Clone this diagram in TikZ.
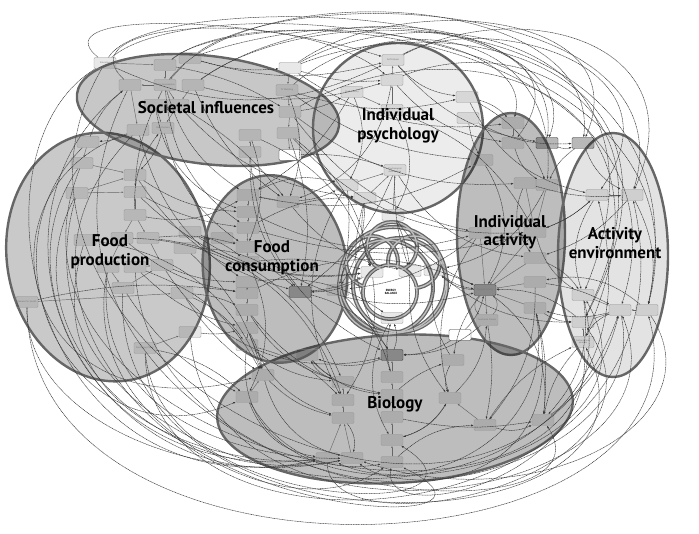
\documentclass[tikz,border=0pt]{standalone}
\usepackage{fontspec}
\setmainfont{PT Sans}
\usetikzlibrary{arrows.meta}
\tikzset{
 cluster/.style={draw=black!60, line width=2.4pt, fill=black},
 box/.style={draw=black!42, fill=black, fill opacity=0.09, text opacity=1, rounded corners=1.2pt, line width=0.4pt,
   minimum width=22pt, minimum height=11pt, inner sep=0.4pt, text width=20pt, align=center,
   font=\fontsize{2.3}{2.5}\selectfont, text=black!55},
 darkbox/.style={box, fill opacity=0.28, draw=black!80},
 wbox/.style={box, fill=white, fill opacity=1, draw=black!85, text=black},
 conn/.style={dash pattern=on 1.1pt off 0.55pt, draw=black!78, line width=0.5pt, -{Latex[length=2.6pt,width=2pt]}},
 arr/.style={draw=black!60, line width=0.45pt, -{Latex[length=2.2pt,width=1.7pt]}},
 lbl/.style={font=\bfseries\fontsize{17}{18.5}\selectfont, text=black, align=center}
}
\begin{document}
\begin{tikzpicture}[x=1pt,y=-1pt]
\useasboundingbox (0,0) rectangle (699,534);
% ---------- clusters
\path[cluster, fill opacity=0.21] (108,257) ellipse[x radius=101pt, y radius=125pt, rotate=10];
\path[cluster, fill opacity=0.22] (208,110) ellipse[x radius=132pt, y radius=54pt, rotate=-7];
\path[cluster, fill opacity=0.075] (398,128) circle[radius=85pt];
\path[cluster, fill opacity=0.26] (511,234) ellipse[x radius=54pt, y radius=121pt];
\path[cluster, fill opacity=0.11] (613,255) ellipse[x radius=55pt, y radius=122pt];
\path[cluster, fill opacity=0.26] (395,409) ellipse[x radius=178pt, y radius=74pt, rotate=3];
\path[cluster, fill opacity=0.26] (275,269) ellipse[x radius=72pt, y radius=94pt, rotate=7];
% ---------- central rings
\foreach \cx/\cy/\r in {392/247/25, 372/262/26, 414/262/26, 390/292/27, 393/280/53, 386/287/47, 400/285/47}
  \draw[black!60, line width=4pt] (\cx,\cy) circle[radius=\r pt];
\foreach \cx/\cy/\r in {392/247/25, 372/262/26, 414/262/26, 390/292/27, 393/280/53, 386/287/47, 400/285/47}
  \draw[black!25, line width=1.4pt] (\cx,\cy) circle[radius=\r pt];
\fill[white] (390,292) circle[radius=25pt];
% ---------- societal nodes
\node[box] (s1) at (105,63) {Education};
\node[box] (s2) at (165,65) {};
\node[box] (s3) at (190,58) {};
\node[box] (s4) at (130,85) {};
\node[box] (s5) at (165,85) {Media Consumption};
\node[box] (s6) at (193,85) {};
\node[box] (s7) at (155,105) {};
\node[box] (s8) at (178,105) {};
\node[box] (s9) at (138,130) {};
\node[box] (s10) at (163,128) {Peer Pressure};
\node[box] (s11) at (290,68) {};
\node[box] (s12) at (287,90) {TV Watching};
\node[box] (s13) at (290,112) {};
\node[box] (s14) at (288,133) {};
\node[box] (s15) at (250,135) {};
\node[box] (s16) at (250,152) {};
\node[wbox] (s17) at (290,155) {};
% ---------- food production nodes
\node[box] (f1) at (88,142) {};
\node[box] (f2) at (82,163) {};
\node[box] (f3) at (135,175) {};
\node[box] (f4) at (77,193) {};
\node[box] (f5) at (135,192) {};
\node[box] (f6) at (135,215) {};
\node[box] (f7) at (85,240) {};
\node[box] (f8) at (122,238) {};
\node[box] (f9) at (148,238) {};
\node[box] (f10) at (190,232) {};
\node[box] (f11) at (185,248) {};
\node[box] (f12) at (108,267) {};
\node[box] (f13) at (135,267) {};
\node[box] (f14) at (162,265) {};
\node[box] (f15) at (123,288) {};
\node[box] (f16) at (182,293) {};
\node[box] (f17) at (27,302) {Demand for Health};
\node[box] (f18) at (190,332) {};
\node[box] (f19) at (145,348) {Purchasing Power};
% ---------- food consumption nodes
\node[box] (c1) at (248,195) {};
\node[box] (c2) at (248,212) {};
\node[box] (c3) at (288,202) {};
\node[box] (c4) at (248,228) {};
\node[box] (c5) at (222,238) {};
\node[box] (c6) at (247,247) {};
\node[box] (c7) at (248,262) {};
\node[box] (c8) at (247,282) {};
\node[box] (c9) at (247,293) {};
\node[darkbox] (c10) at (300,292) {};
\node[box] (c11) at (338,290) {};
\node[box] (c12) at (247,310) {};
\node[box] (c13) at (247,328) {};
\node[box] (c14) at (247,345) {};
\node[box] (c15) at (307,355) {};
% ---------- psychology nodes
\node[box] (p1) at (393,60) {Self-Esteem};
\node[box] (p2) at (392,80) {};
\node[box] (p3) at (352,92) {Food Literacy};
\node[box] (p4) at (467,97) {};
\node[box] (p5) at (468,118) {};
\node[box] (p6) at (392,110) {};
\node[box] (p7) at (395,170) {Psychological Ambivalence};
\node[box] (p8) at (347,185) {};
\node[box] (p9) at (365,198) {};
\node[box] (p10) at (393,215) {};
% ---------- individual activity nodes
\node[box] (a1) at (513,123) {};
\node[box] (a2) at (513,143) {};
\node[darkbox] (a3) at (547,143) {};
\node[box] (a4) at (482,160) {};
\node[box] (a5) at (525,183) {};
\node[box] (a6) at (547,185) {};
\node[box] (a7) at (480,233) {};
\node[box] (a8) at (535,232) {};
\node[box] (a9) at (535,258) {};
\node[box] (a10) at (535,282) {};
\node[box] (a11) at (535,308) {};
\node[darkbox] (a12) at (485,290) {Physical Activity};
\node[box] (a13) at (487,320) {Functional Fitness};
% ---------- activity environment nodes
\node[darkbox] (e0) at (583,143) {};
\node[box] (e1) at (597,195) {};
\node[box] (e2) at (632,195) {};
\node[box] (e3) at (583,295) {};
\node[box] (e4) at (620,310) {};
\node[box] (e5) at (647,310) {};
\node[box] (e6) at (583,322) {};
\node[box] (e7) at (583,342) {Ambient Temperature};
% ---------- biology nodes
\node[darkbox] (b1) at (392,355) {};
\node[box] (b2) at (453,360) {};
\node[box] (b3) at (263,375) {};
\node[box] (b4) at (343,382) {};
\node[box] (b5) at (392,377) {};
\node[box] (b6) at (247,397) {};
\node[box] (b7) at (343,400) {};
\node[box] (b8) at (392,395) {};
\node[box] (b9) at (450,398) {};
\node[box] (b10) at (343,418) {};
\node[box] (b11) at (392,417) {};
\node[box] (b12) at (485,425) {};
\node[box] (b13) at (543,420) {};
\node[box] (b14) at (392,440) {};
\node[box] (b15) at (327,458) {};
\node[box] (b16) at (352,458) {};
\node[box] (b17) at (392,462) {};
\node[wbox] (b18) at (460,335) {};
% ---------- core nodes
\node[box] (k1) at (372,272) {};
\node[box] (k2) at (410,271) {};
\node[box] (k3) at (435,270) {};
\node[box] (k4) at (392,318) {};
\node[font=\bfseries\fontsize{3}{3.4}\selectfont, align=center] (eb) at (391,292) {ENERGY\\BALANCE};
% ---------- local arrows
\foreach \a/\b in {s2/s5, s3/s5, s5/s4, s5/s7, s5/s8, s7/s10, s8/s10, s4/s9, s6/s8, s11/s12, s12/s13, s13/s14, s14/s17, s16/s15, s1/s2,
  f2/f3, f4/f3, f4/f5, f6/f5, f6/f8, f6/f9, f8/f12, f9/f14, f13/f14, f15/f14, f17/f16, f19/f18, f1/f2, f12/f15,
  c1/c2, c2/c4, c4/c6, c6/c7, c8/c9, c9/c12, c12/c13, c13/c14, c5/c6, c3/c1, c11/c10,
  p2/p1, p6/p2, p8/p7, p9/p7, p10/p7, p3/p6,
  a8/a12, a9/a12, a10/a12, a11/a12, a7/a12, a12/a13, a1/a2, a5/a8, a6/a8,
  e3/e4, e6/e4, e5/e4, e2/e1, e7/e6,
  b7/b4, b10/b7, b11/b8, b8/b5, b5/b1, b15/b10, b16/b10, b17/b14, b14/b11, b6/b3, b12/b9}
  \draw[arr] (\a) -- (\b);
\draw[arr] (a12) to[bend right=50] (a13);
\draw[arr] (a13) to[bend right=50] (a12);
% ---------- cross connectors
\foreach \a/\b/\bn in {s5/c1/-20, s8/c3/10, s12/c3/20, s13/p3/-10, s14/c10/15, s16/c10/-20, s17/p7/10, s11/p2/-10, s12/a4/-15, s13/a7/-20, s14/k1/20, s15/c6/20, s10/f3/15, s9/f1/10, s7/f5/-10, s6/p2/-15, s3/s11/-10, s2/s13/10,
  f3/c2/-15, f5/c4/-10, f9/c6/10, f10/c5/-15, f11/c10/20, f14/c8/-10, f16/c12/10, f18/c13/-10, f19/b6/15, f17/c9/10, f13/b3/20, f15/b6/-15, f7/b3/30, f6/c1/-20, f1/s4/15, f8/b7/35,
  c10/k1/-10, c10/b1/20, c12/b4/-20, c13/b3/10, c14/b7/15, c3/p8/-10, c1/p8/20, c6/a12/-25, c9/a12/25, c15/b4/-10, c11/b5/15, c8/k4/20, c4/a8/-15,
  p7/c10/15, p7/k2/-10, p8/c11/10, p9/k1/-15, p10/k2/10, p4/a1/15, p5/a4/-10, p3/c1/15, p2/a2/-20, p1/a3/-20, p6/a8/20, p10/a12/-15, p9/b1/-25,
  a12/k3/20, a12/b2/-15, a13/b12/10, a8/e1/-10, a9/e3/15, a11/e6/-15, a10/e4/10, a3/e0/-20, a7/c11/15, a5/e2/-10, a6/k3/25, a12/b13/30,
  e4/a11/15, e7/b13/-15, e6/a12/-20, e1/a8/10, e2/a9/15, e0/a6/-15,
  b1/k4/-20, b2/k3/20, b5/k4/15, b9/a13/-20, b12/e7/15, b13/e4/-20, b14/b9/-20, b17/b12/20, b6/b15/-30, b3/b10/-15, b8/b2/10, b11/b13/-10, b18/b1/15, b18/a12/-15, k4/b14/-30, k2/b9/-20, k3/e6/-20, k1/b7/20,
  s1/p1/-25, s3/p1/-15, s11/a1/-20, s12/p4/-15, f10/k1/-20, f16/b3/-10, c7/k1/10, p5/e0/-15, p4/e1/-25, b4/c15/20,
  s5/c4/-25, s7/c2/-30, s10/c6/-20, s15/k1/25, s16/b1/-30, s14/a8/-25, s13/a5/-20, s9/c8/-20, s8/p9/-20, s6/c3/-15,
  f3/c10/-20, f5/k1/-25, f9/b4/30, f11/b3/15, f14/b1/-35, f16/c14/15, f10/c7/10, f6/s10/20, f8/c9/-15, f13/c13/-15,
  c2/a7/-20, c4/p9/15, c7/b6/25, c12/b8/-20, c13/b10/-25, c3/k2/-20, c1/a4/-20, c14/b4/-15, c15/b8/-20,
  p1/p4/-20, p3/p8/25, p6/p10/30, p7/a9/-25, p8/b7/-30, p2/c3/30, p4/a6/20, p9/c11/15,
  a2/a6/-20, a4/a12/30, a7/b9/-25, a10/b12/20, a11/b13/10, a13/b1/20, a8/e3/-20, a5/a9/-30,
  e1/e3/-25, e2/e5/20, e3/b13/25, e4/e7/-20, e5/a10/-25, e0/e2/-20,
  b2/b9/-25, b3/b16/-30, b6/b17/-35, b12/b13/-20, b9/b14/20, b10/b16/25, k1/c10/15, k3/a12/-15, b1/c15/20}
  \draw[conn] (\a) to[bend left=\bn] (\b);
% ---------- outer arcs: left and bottom
\draw[conn] (s1) .. controls (-40,150) and (30,520) .. (b15);
\draw[conn] (s4) .. controls (-30,210) and (60,490) .. (b15);
\draw[conn] (f2) .. controls (-15,300) and (140,505) .. (b15);
\draw[conn] (f4) .. controls (0,340) and (170,495) .. (b16);
\draw[conn] (f17) .. controls (25,420) and (200,490) .. (b16);
\draw[conn] (f1) .. controls (-30,260) and (80,470) .. (b6);
\draw[conn] (s9) .. controls (-35,190) and (20,440) .. (b3);
\draw[conn] (f7) .. controls (30,420) and (230,470) .. (b15);
\draw[conn] (f12) .. controls (90,420) and (250,460) .. (b16);
\draw[conn] (f17) .. controls (30,610) and (720,580) .. (e5);
\draw[conn] (f19) .. controls (150,590) and (710,540) .. (e2);
\draw[conn] (f18) .. controls (210,575) and (700,510) .. (e4);
\draw[conn] (c14) .. controls (220,560) and (690,480) .. (e3);
\draw[conn] (f4) .. controls (-20,530) and (700,610) .. (e1);
\draw[conn] (f15) .. controls (110,570) and (690,555) .. (e7);
\draw[conn] (s4) .. controls (-50,450) and (610,640) .. (a11);
\draw[conn] (b15) .. controls (330,555) and (690,480) .. (e6);
\draw[conn] (f13) .. controls (150,520) and (620,535) .. (b13);
\draw[conn] (e7) .. controls (600,480) and (380,530) .. (b17);
\draw[conn] (e4) .. controls (650,450) and (420,510) .. (b16);
\draw[conn] (a11) .. controls (560,440) and (420,500) .. (b15);
\draw[conn] (s1) .. controls (-60,350) and (500,650) .. (e4);
\draw[conn] (f2) .. controls (-40,470) and (650,600) .. (e3);
\draw[conn] (f12) .. controls (60,520) and (560,545) .. (b17);
\draw[conn] (f19) .. controls (160,520) and (520,520) .. (b14);
\draw[conn] (s9) .. controls (-50,320) and (250,560) .. (b17);
\draw[conn] (e5) .. controls (720,420) and (540,520) .. (b16);
% ---------- outer arcs: top
\draw[conn] (s11) .. controls (400,-10) and (640,10) .. (e0);
\draw[conn] (s3) .. controls (300,-20) and (690,0) .. (e2);
\draw[conn] (s1) .. controls (200,-18) and (720,20) .. (e5);
\draw[conn] (s2) .. controls (260,-12) and (705,40) .. (e4);
\draw[conn] (s6) .. controls (320,-5) and (560,10) .. (a3);
\draw[conn] (s12) .. controls (380,10) and (560,20) .. (a6);
\draw[conn] (p1) .. controls (480,10) and (690,60) .. (e1);
\draw[conn] (s11) .. controls (420,-5) and (690,30) .. (e3);
\draw[conn] (s13) .. controls (450,20) and (700,80) .. (e7);
\draw[conn] (s1) .. controls (40,10) and (250,15) .. (p1);
\draw[conn] (s4) .. controls (60,20) and (300,5) .. (p2);
\draw[conn] (s2) .. controls (230,10) and (540,20) .. (a1);
\draw[conn] (s3) .. controls (360,0) and (600,30) .. (a2);
\draw[conn] (p2) .. controls (520,30) and (690,100) .. (e6);
\draw[conn] (s5) .. controls (250,-25) and (600,-10) .. (e0);
\draw[conn] (s1) .. controls (150,-10) and (600,0) .. (a3);
\draw[conn] (s6) .. controls (330,-15) and (710,10) .. (e5);
\draw[conn] (s11) .. controls (450,5) and (720,60) .. (e6);
\draw[conn] (p1) .. controls (520,-5) and (700,40) .. (e2);
% ---------- labels
\node[lbl] (lsoc) at (206,108) {Societal influences};
\node[lbl] (lpsy) at (398,126) {Individual\\psychology};
\node[lbl] (lfp) at (110,252) {Food\\production};
\node[lbl] (lfc) at (272,258) {Food\\consumption};
\node[lbl] (lia) at (510,232) {Individual\\activity};
\node[lbl] (lae) at (615,243) {Activity\\environment};
\node[lbl] (lbio) at (395,404) {Biology};
\end{tikzpicture}
\end{document}
